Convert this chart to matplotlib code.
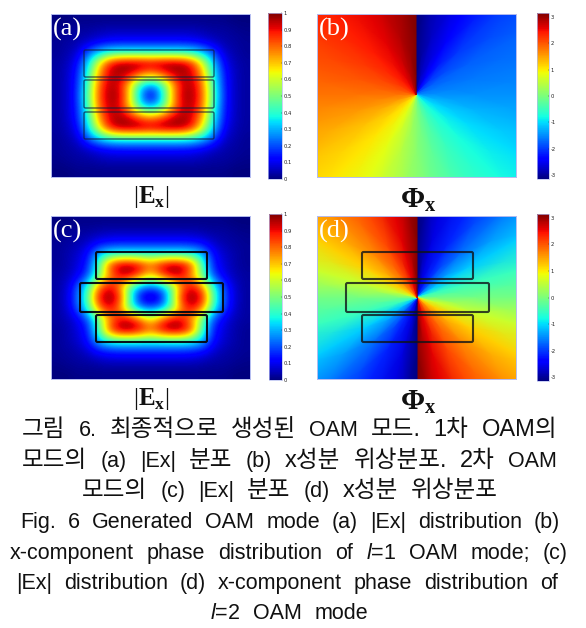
import numpy as np
import matplotlib
matplotlib.use("Agg")
import matplotlib.pyplot as plt
from matplotlib.cm import ScalarMappable
from matplotlib.colors import Normalize
from matplotlib.patches import FancyBboxPatch

plt.rcParams["mathtext.fontset"] = "custom"
plt.rcParams["mathtext.bf"] = "Liberation Serif:bold"
plt.rcParams["mathtext.rm"] = "Liberation Serif"
plt.rcParams["mathtext.it"] = "Liberation Sans:italic"

W, H = 586, 628

# |Ex|, top left quadrant (edge -> centre), rows top -> centre
amp_a = [
    [0.00, 0.00, 0.01, 0.01, 0.01, 0.01, 0.01, 0.01, 0.01, 0.01],
    [0.01, 0.02, 0.03, 0.03, 0.04, 0.05, 0.05, 0.05, 0.05, 0.05],
    [0.02, 0.03, 0.04, 0.06, 0.09, 0.11, 0.12, 0.12, 0.12, 0.12],
    [0.02, 0.04, 0.07, 0.20, 0.30, 0.36, 0.38, 0.38, 0.38, 0.38],
    [0.03, 0.05, 0.12, 0.33, 0.62, 0.88, 0.98, 1.00, 1.00, 0.98],
    [0.03, 0.06, 0.15, 0.38, 0.72, 0.92, 0.97, 0.92, 0.82, 0.75],
    [0.03, 0.06, 0.16, 0.42, 0.78, 0.95, 0.92, 0.68, 0.38, 0.28],
    [0.03, 0.06, 0.17, 0.45, 0.80, 0.97, 0.95, 0.68, 0.30, 0.06],
]
amp_c = [
    [0.00, 0.00, 0.01, 0.01, 0.01, 0.01, 0.01, 0.01, 0.01, 0.01],
    [0.01, 0.02, 0.03, 0.03, 0.04, 0.05, 0.05, 0.05, 0.05, 0.05],
    [0.02, 0.03, 0.04, 0.07, 0.12, 0.14, 0.15, 0.15, 0.15, 0.15],
    [0.02, 0.04, 0.07, 0.13, 0.30, 0.38, 0.40, 0.40, 0.40, 0.40],
    [0.02, 0.04, 0.08, 0.15, 0.42, 0.82, 0.98, 1.00, 0.93, 0.82],
    [0.03, 0.05, 0.10, 0.20, 0.45, 0.72, 0.90, 0.93, 0.80, 0.65],
    [0.03, 0.07, 0.20, 0.40, 0.75, 0.92, 0.78, 0.45, 0.28, 0.22],
    [0.03, 0.08, 0.22, 0.45, 0.90, 1.00, 0.90, 0.45, 0.10, 0.03],
]

# phase along rays from the vortex, degrees clockwise from straight up
ray_b = [0, 15, 30, 45, 60, 75, 90, 105, 120, 135, 150, 165, 180,
         195, 210, 225, 240, 255, 270, 285, 300, 315, 330, 345, 360]
phase_b = [-3.14, -2.75, -2.4, -2.0, -1.75, -1.6, -1.45, -1.25, -1.0, -0.75, -0.5, -0.2, 0.1,
           0.45, 0.8, 1.05, 1.3, 1.55, 1.8, 2.0, 2.2, 2.4, 2.6, 2.85, 3.14]
ray_d = [0, 15, 30, 45, 60, 75, 90, 105, 120, 135, 150, 165, 180,
         180, 195, 210, 225, 240, 255, 270, 285, 300, 315, 330, 345, 360]
phase_d = [-3.14, -2.6, -2.15, -1.65, -1.1, -0.5, -0.05, 0.6, 1.2, 1.65, 2.1, 2.6, 3.14,
           -3.14, -2.6, -2.15, -1.65, -1.1, -0.5, -0.05, 0.6, 1.2, 1.65, 2.1, 2.6, 3.14]

amp_ticks = [0, 0.1, 0.2, 0.3, 0.4, 0.5, 0.6, 0.7, 0.8, 0.9, 1]
phase_ticks = [-3, -2, -1, 0, 1, 2, 3]

caption = [
    ("그림 6. 최종적으로 생성된 OAM 모드. 1차 OAM의", 22, 557, 428),
    ("모드의 (a) |Ex| 분포 (b) x성분 위상분포. 2차 OAM", 22, 557, 459),
    ("모드의 (c) |Ex| 분포 (d) x성분 위상분포", 82, 498, 489),
    ("Fig. 6 Generated OAM mode (a) |Ex| distribution (b)", 20, 560, 520),
    ("x-component phase distribution of $\\mathit{l}$=1 OAM mode; (c)", 10, 568, 551),
    ("|Ex| distribution (d) x-component phase distribution of", 16, 558, 581),
    ("$\\mathit{l}$=2 OAM mode", 210, 368, 611),
]

fig = plt.figure(figsize=(W / 100, H / 100), dpi=100)


def px_axes(x0, y0, x1, y1):
    ax = fig.add_axes([x0 / W, 1 - y1 / H, (x1 - x0) / W, (y1 - y0) / H])
    ax.set_xlim(x0, x1)
    ax.set_ylim(y1, y0)
    ax.set_xticks([])
    ax.set_yticks([])
    for s in ax.spines.values():
        s.set_color("#b4bcf0")
        s.set_linewidth(0.7)
    return ax


def draw_amp(box, quad):
    ax = px_axes(*box)
    top = np.hstack([quad, np.fliplr(quad)[:, 1:]])
    full = np.vstack([top, np.flipud(top)[1:]])
    ax.imshow(full, cmap="jet", vmin=0, vmax=1, interpolation="bicubic",
              extent=(box[0], box[2], box[3], box[1]), aspect="auto")
    return ax


def draw_phase(box, centre, rays, phase):
    ax = px_axes(*box)
    t = np.radians(rays)
    r = np.array([0.01, 5, 20, 60, 130, 300])
    X = centre[0] + np.outer(r, np.sin(t))
    Y = centre[1] - np.outer(r, np.cos(t))
    C = np.tile(phase, (len(r), 1))
    ax.pcolormesh(X, Y, C, cmap="jet", vmin=-3.14, vmax=3.14, shading="gouraud")
    ax.set_xlim(box[0], box[2])
    ax.set_ylim(box[3], box[1])
    return ax


def draw_boxes(ax, boxes, lw, color, alpha):
    for x0, y0, x1, y1 in boxes:
        ax.add_patch(FancyBboxPatch((x0, y0), x1 - x0, y1 - y0, boxstyle="round,pad=0,rounding_size=1.5",
                                    fill=False, ec=color, lw=lw, alpha=alpha))


def draw_cbar(box, vmin, vmax, ticks):
    cax = fig.add_axes([box[0] / W, 1 - box[3] / H, (box[2] - box[0]) / W, (box[3] - box[1]) / H])
    cb = fig.colorbar(ScalarMappable(Normalize(vmin, vmax), "jet"), cax=cax, ticks=ticks)
    cb.ax.set_yticklabels([str(v) for v in ticks])
    cb.ax.tick_params(labelsize=3.8, length=1, width=0.3, pad=1, direction="in", colors="#222222")
    cb.outline.set_edgecolor("#b4bcf0")
    cb.outline.set_linewidth(0.5)


ax_a = draw_amp((51, 14, 250, 177), amp_a)
ax_b = draw_phase((317, 14, 516, 177), (416, 94.5), ray_b, phase_b)
ax_c = draw_amp((51, 216, 250, 379), amp_c)
ax_d = draw_phase((317, 216, 516, 379), (417, 297.5), ray_d, phase_d)

draw_boxes(ax_a, [(84, 50, 214, 77), (84, 80, 214, 108), (84, 112, 214, 139)], 1.0, "#101c3c", 0.7)
draw_boxes(ax_c, [(96, 252, 207, 279), (80, 283, 223, 312), (96, 315, 207, 342)], 1.5, "#050510", 0.95)
draw_boxes(ax_d, [(362, 252, 473, 279), (346, 283, 489, 312), (362, 315, 473, 342)], 1.5, "#101418", 0.8)

draw_cbar((268, 13, 282, 179), 0, 1, amp_ticks)
draw_cbar((537, 13, 549, 179), -3.14, 3.14, phase_ticks)
draw_cbar((269, 214, 282, 380), 0, 1, amp_ticks)
draw_cbar((537, 214, 549, 381), -3.14, 3.14, phase_ticks)


def ftext(x, y, s, **kw):
    return fig.text(x / W, 1 - y / H, s, **kw)


for x, y, s in [(53, 29, "(a)"), (319, 29, "(b)"), (53, 231, "(c)"), (319, 231, "(d)")]:
    ftext(x, y, s, color="white", family="Liberation Serif", fontsize=19, va="center", ha="left")

for x, y, s in [(151, 197, r"$|\mathbf{E}_{\mathbf{x}}|$"), (151, 399, r"$|\mathbf{E}_{\mathbf{x}}|$")]:
    ftext(x, y, s, color="#111111", fontsize=18, va="center", ha="center")
for x, y in [(418, 200), (418, 402)]:
    ftext(x, y, r"$\mathbf{\Phi}_{\mathbf{x}}$", color="#111111", fontsize=21, va="center", ha="center")

# caption is justified, so spread the words over each line's width
# hangul reads bigger than the latin in the reference
renderer = fig.canvas.get_renderer()
for line, x0, x1, y in caption:
    words = []
    for w in line.split(" "):
        size = 17 if any("\uac00" <= c <= "\ud7a3" for c in w) else 15.5
        words.append(ftext(0, y + 8, w, fontsize=size, va="baseline", ha="left", color="#111111",
                           family=["Liberation Sans", "Noto Sans CJK KR"]))
    widths = [t.get_window_extent(renderer).width for t in words]
    gap = (x1 - x0 - sum(widths)) / max(len(words) - 1, 1)
    x = x0
    for t, w in zip(words, widths):
        t.set_x(x / W)
        x += w + gap

fig.savefig("out.png", dpi=100)
